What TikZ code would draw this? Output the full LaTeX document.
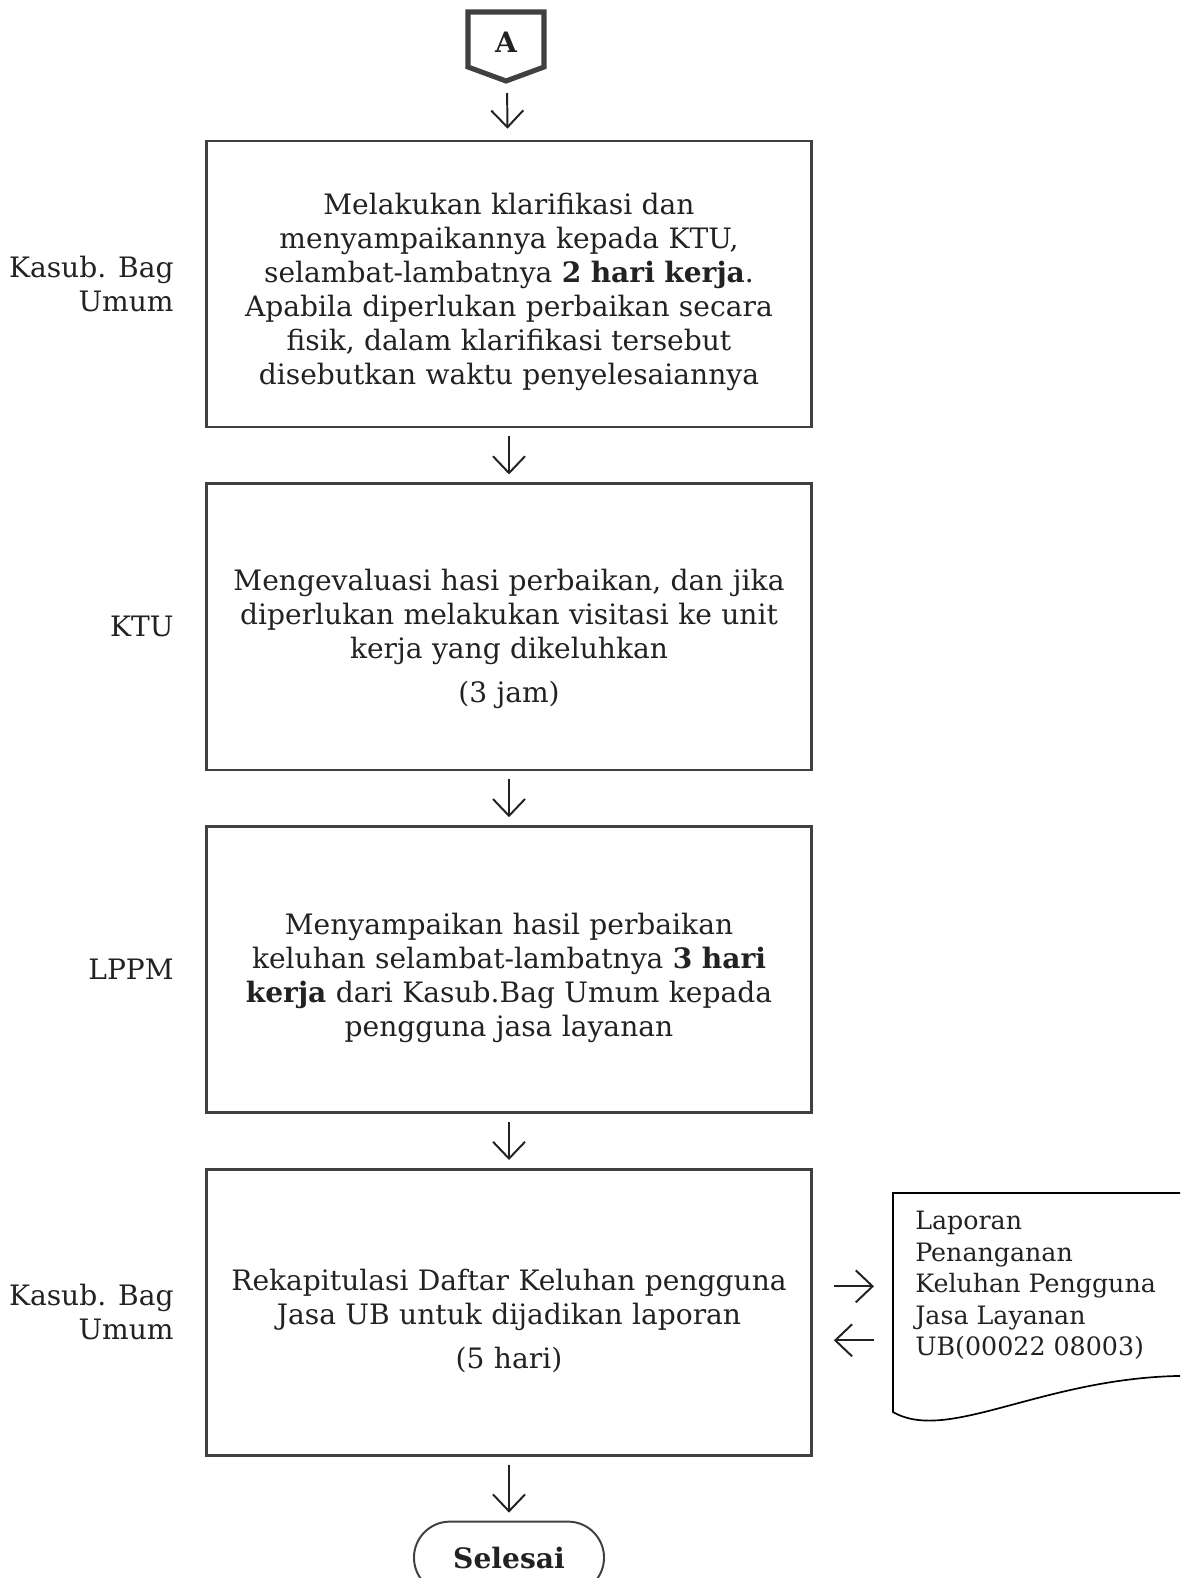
\documentclass[tikz,border=0pt]{standalone}
\usepackage{fontspec}
\setmainfont{DejaVu Serif}
\usepackage{xcolor}
\usepackage{tikz}
\usetikzlibrary{arrows.meta,calc,positioning}
\definecolor{lineg}{HTML}{404040}
\definecolor{inkg}{HTML}{222222}
\tikzset{SOP style/.style={x=0.025cm,y=-0.025cm,font=\fontsize{20}{24.2}\selectfont,text=inkg}}
\newcommand{\topgap}{\rule{0pt}{27pt}}

\begin{document}
\begin{tikzpicture}[SOP style,node distance=8.567cm,>={Straight Barb[length=0.42cm,width=0.8cm]}]
	\tikzstyle{proc}=[draw=lineg,line width=1.8pt,minimum width=15.125cm,minimum height=7.15cm,
	text width=14.6cm,align=center,inner sep=0pt]
	\tikzstyle{lane}=[align=right,inner sep=0pt]
	\tikzstyle{flow}=[line width=1.4pt,color=inkg,shorten <=0.2cm,shorten >=0.2cm]
	\tikzstyle{term}=[draw=lineg,line width=1.4pt,rounded corners=0.9cm,minimum width=4.75cm,
	minimum height=1.8cm,font=\fontsize{20}{24}\selectfont\bfseries]
	
	\useasboundingbox (0,0) rectangle (1180,1578);
	\clip (0,0) rectangle (1180,1578);
	
	% off-page connector
	\draw[draw=lineg,line width=3.6pt] (468,12) -- (544,12) -- (544,67) -- (506,81) -- (468,67) -- cycle;
	\node[font=\fontsize{20}{22}\selectfont\bfseries] (conA) at (506,42) {A};
	\coordinate (conAtip) at (507,82);
	
	\node[proc] (p1) at (509,284) {\topgap Melakukan klarifikasi dan\\
		menyampaikannya kepada KTU,\\
		selambat-lambatnya \textbf{2 hari kerja}.\\
		Apabila diperlukan perbaikan secara\\
		fisik, dalam klarifikasi tersebut\\
		disebutkan waktu penyelesaiannya};
	\node[proc] [below of=p1] (p2) {\rule{0pt}{33pt}Mengevaluasi hasi perbaikan, dan jika\\
		diperlukan melakukan visitasi ke unit\\
		kerja yang dikeluhkan\\[7pt]
		(3 jam)};
	\node[proc] [below of=p2] (p3) {\topgap Menyampaikan hasil perbaikan\\
		keluhan selambat-lambatnya \textbf{3 hari}\\
		\textbf{kerja} dari Kasub.Bag Umum kepada\\
		pengguna jasa layanan};
	\node[proc] [below of=p3] (p4) {\topgap Rekapitulasi Daftar Keluhan pengguna\\
		Jasa UB untuk dijadikan laporan\\[7pt]
		(5 hari)};
	\node[term, below=1.6cm of p4] (end) {Selesai};
	
	\node[lane, left=0.78cm of p1] (l1) {Kasub. Bag\\Umum};
	\node[lane, left=0.78cm of p2] (l2) {KTU};
	\node[lane, left=0.78cm of p3] (l3) {LPPM};
	\node[lane, left=0.78cm of p4] (l4) {Kasub. Bag\\Umum};
	
	% report document
	\node[anchor=north west,inner xsep=0.55cm,inner ysep=0.45cm,align=left,
	font=\fontsize{18}{22.4}\selectfont] (lap) at (893,1193) {Laporan\\Penanganan\\Keluhan Pengguna\\Jasa Layanan\\UB(00022 08003)};
	\draw[line width=1.2pt,draw=black] (1200,1193) -- (lap.north west) -- ++(0,219)
	.. controls (950,1445) and (1050,1372) .. (1200,1376);
	
	\coordinate (toLap) at ([yshift=0.65cm]p4.east);
	\coordinate (fromLap) at ([yshift=-0.7cm]p4.east);
	
	\path[flow,->,shorten <=0.275cm,shorten >=0.275cm] (conAtip) edge (p1);
	\path[flow,->] 
	(p1) edge (p2)
	(p2) edge (p3)
	(p3) edge (p4)
	(p4) edge (end);
	\path[flow,->,shorten <=0.525cm,shorten >=0.475cm] (toLap) edge (toLap -| lap.west);
	\path[flow,->,shorten <=0.475cm,shorten >=0.525cm] (fromLap -| lap.west) edge (fromLap);
\end{tikzpicture}
\end{document}
